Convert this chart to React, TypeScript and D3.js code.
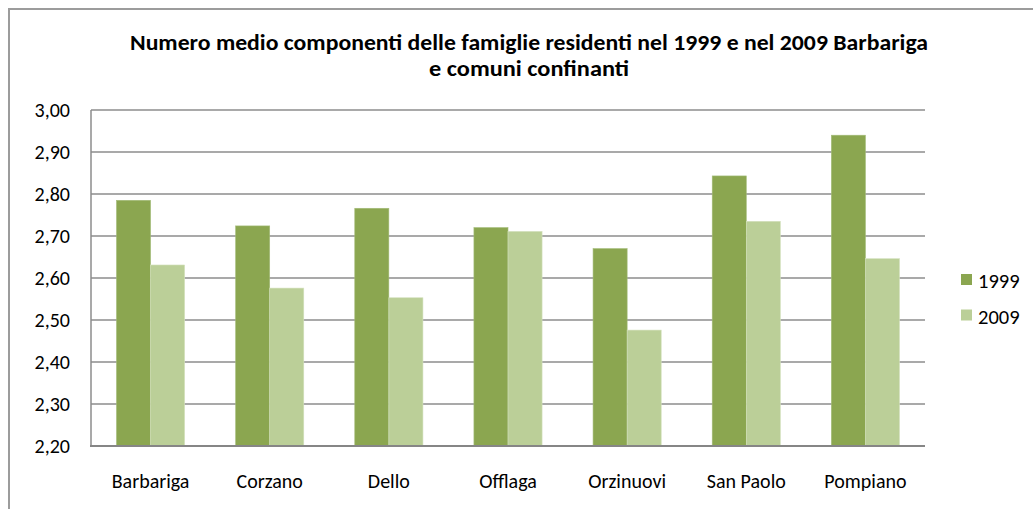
import React, { useEffect, useRef } from 'react'
import * as d3 from 'd3'

const comuni = ['Barbariga', 'Corzano', 'Dello', 'Offlaga', 'Orzinuovi', 'San Paolo', 'Pompiano']
const val1999 = [2.785, 2.724, 2.766, 2.72, 2.67, 2.843, 2.94]
const val2009 = [2.631, 2.576, 2.553, 2.711, 2.476, 2.735, 2.646]
const serie = ['1999', '2009']
const yTicks = [2.2, 2.3, 2.4, 2.5, 2.6, 2.7, 2.8, 2.9, 3.0]

const titleLines = [
  'Numero medio componenti delle famiglie residenti nel 1999 e nel 2009 Barbariga',
  'e comuni confinanti'
]

export default function App() {
  const svgRef = useRef<SVGSVGElement>(null)
  const width = 1033
  const height = 509

  useEffect(() => {
    if (!svgRef.current) return
    d3.select(svgRef.current).selectAll('*').remove()
    const svg = d3.select(svgRef.current)

    const font = "Carlito, Calibri, 'Open Sans', sans-serif"
    const colors = ['#8BA650', '#BBCF98']

    // chart area border (cut off right/bottom like the original)
    svg.append('rect')
      .attr('x', 9).attr('y', 9)
      .attr('width', 1100).attr('height', 600)
      .attr('fill', 'white')
      .attr('stroke', '#9c9c9c')
      .attr('stroke-width', 2)

    // title
    const titleWidths = [798, 200]
    const titleY = [50, 76]
    titleLines.forEach((t, i) => {
      svg.append('text')
        .attr('x', 529)
        .attr('y', titleY[i])
        .attr('text-anchor', 'middle')
        .attr('font-family', font)
        .attr('font-weight', 'bold')
        .attr('font-size', 23)
        .attr('textLength', titleWidths[i])
        .attr('lengthAdjust', 'spacingAndGlyphs')
        .attr('fill', '#000')
        .text(t)
    })

    const plot = { left: 91, right: 925, top: 110, bottom: 446 }

    const x0 = d3.scaleBand()
      .domain(comuni)
      .range([plot.left, plot.right])
      .paddingInner(0.428)
      .paddingOuter(0.214)

    const x1 = d3.scaleBand()
      .domain(serie)
      .range([0, x0.bandwidth()])

    const y = d3.scaleLinear()
      .domain([2.2, 3.0])
      .range([plot.bottom, plot.top])

    // gridlines
    svg.append('g')
      .selectAll('line')
      .data(yTicks.slice(1))
      .enter()
      .append('line')
      .attr('x1', plot.left)
      .attr('x2', plot.right)
      .attr('y1', d => y(d))
      .attr('y2', d => y(d))
      .attr('stroke', '#8c8c8c')
      .attr('stroke-width', 1.5)

    // y tick labels
    svg.append('g')
      .selectAll('text')
      .data(yTicks)
      .enter()
      .append('text')
      .attr('x', 70)
      .attr('y', d => y(d))
      .attr('dy', '0.34em')
      .attr('text-anchor', 'end')
      .attr('font-family', font)
      .attr('font-size', 20)
      .attr('fill', '#000')
      .text(d => d3.format('.2f')(d).replace('.', ','))

    // bars
    const rows = comuni.map((c, i) => ({ comune: c, values: [val1999[i], val2009[i]] }))
    const groups = svg.append('g')
      .selectAll('g')
      .data(rows)
      .enter()
      .append('g')
      .attr('transform', d => `translate(${x0(d.comune)},0)`)

    groups.selectAll('rect')
      .data(d => d.values.map((v, k) => ({ key: serie[k], v, k })))
      .enter()
      .append('rect')
      .attr('x', d => x1(d.key)!)
      .attr('y', d => y(d.v))
      .attr('width', x1.bandwidth())
      .attr('height', d => plot.bottom - y(d.v))
      .attr('fill', d => colors[d.k])
      .attr('stroke', d => (d.k === 0 ? '#a3bb78' : '#d4e2bf'))
      .attr('stroke-width', 0.6)

    // axes lines
    svg.append('line')
      .attr('x1', plot.left).attr('x2', plot.left)
      .attr('y1', plot.top).attr('y2', plot.bottom)
      .attr('stroke', '#8c8c8c')
      .attr('stroke-width', 1.5)

    svg.append('line')
      .attr('x1', plot.left - 1).attr('x2', plot.right)
      .attr('y1', plot.bottom).attr('y2', plot.bottom)
      .attr('stroke', '#868686')
      .attr('stroke-width', 2)

    // x labels
    svg.append('g')
      .selectAll('text')
      .data(comuni)
      .enter()
      .append('text')
      .attr('x', d => x0(d)! + x0.bandwidth() / 2)
      .attr('y', 488)
      .attr('text-anchor', 'middle')
      .attr('font-family', font)
      .attr('font-size', 20)
      .attr('fill', '#000')
      .text(d => d)

    // legend
    const legend = svg.append('g')
    serie.forEach((s, i) => {
      legend.append('rect')
        .attr('x', 961)
        .attr('y', 274 + i * 35.5)
        .attr('width', 11)
        .attr('height', 11)
        .attr('fill', colors[i])
      legend.append('text')
        .attr('x', 978)
        .attr('y', 288 + i * 35.5)
        .attr('font-family', font)
        .attr('font-size', 20.5)
        .attr('fill', '#000')
        .text(s)
    })
  }, [])

  return (
    <svg
      ref={svgRef}
      width={width}
      height={height}
      style={{ position: 'absolute', left: 0, top: 0, background: 'white' }}
    />
  )
}
